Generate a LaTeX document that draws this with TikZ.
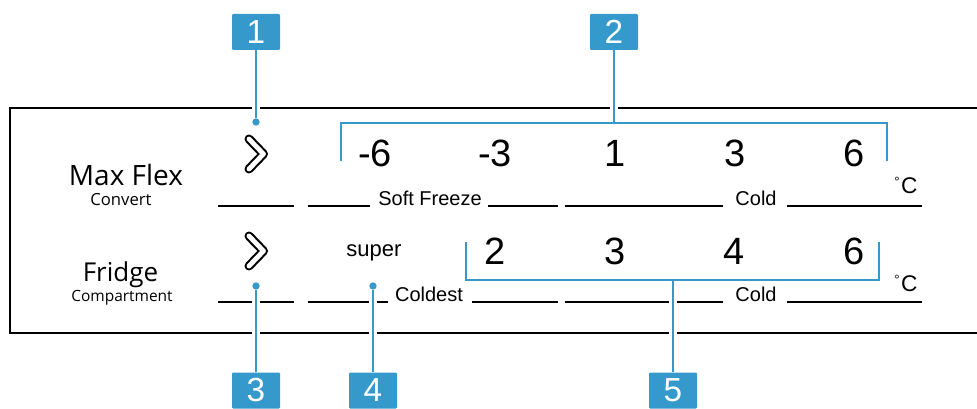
\documentclass[tikz,border=0pt]{standalone}
\usepackage{fontspec}
\setmainfont{Liberation Sans}
\newfontfamily\lblfont{Open Sans}
\definecolor{callout}{HTML}{3699CC}
\begin{document}
\begin{tikzpicture}[x=0.75pt,y=-0.75pt,
  frameline/.style={line width=1.9pt,black},
  uline/.style={line width=1.9pt,black},
  bluel/.style={line width=1.8pt,callout},
  halo/.style={line width=6pt,white},
  callbox/.style={fill=callout,draw=none,rounded corners=0.8pt,minimum width=36pt,minimum height=27pt,inner sep=0pt},
  callnum/.style={inner sep=0pt,text=white,font=\fontsize{25}{25}\selectfont},
  dot/.style={circle,fill=callout,inner sep=0pt,minimum size=5.5pt},
  bignum/.style={anchor=base,inner sep=0pt,font=\fontsize{28.5}{28.5}\selectfont},
  smalltxt/.style={anchor=base,inner sep=0pt,font=\fontsize{15}{15}\selectfont},
  degc/.style={anchor=base west,inner sep=0pt,font=\fontsize{17}{17}\selectfont},
  biglbl/.style={anchor=base,inner sep=0pt,font=\lblfont\fontsize{21}{21}\selectfont},
  sublbl/.style={anchor=base,inner sep=0pt,font=\lblfont\fontsize{12.5}{12.5}\selectfont},
  chevblack/.style={line width=6.75pt,black,line cap=round,line join=round},
  chevwhite/.style={line width=3.6pt,white,line cap=round,line join=round}
]
\clip (0,0) rectangle (977,409);
\fill[white] (0,0) rectangle (977,409);

% frame
\draw[frameline] (980,108) -- (10,108) -- (10,333) -- (980,333);

% underlines row 1
\draw[uline] (218,206) -- (294,206);
\draw[uline] (308,206) -- (370,206);
\draw[uline] (488,206) -- (558,206);
\draw[uline] (565,206) -- (723,206);
\draw[uline] (787,206) -- (922,206);
% underlines row 2
\draw[uline] (218,302) -- (294,302);
\draw[uline] (308,302) -- (388,302);
\draw[uline] (472,302) -- (558,302);
\draw[uline] (565,302) -- (723,302);
\draw[uline] (787,302) -- (922,302);

% labels on the underlines
\node[smalltxt] (softfreeze) at (430,206) {Soft Freeze};
\node[smalltxt] (cold1) at (756,206) {Cold};
\node[smalltxt] (coldest) at (429,302) {Coldest};
\node[smalltxt] (cold2) at (756,302) {Cold};

% left labels
\node[biglbl] (maxflex) at (126,186) {Max Flex};
\node[sublbl] (convert) at (121,206) {Convert};
\node[biglbl,font=\lblfont\fontsize{19.5}{19.5}\selectfont] (fridge) at (120.5,282) {Fridge};
\node[sublbl,font=\lblfont\fontsize{11.6}{11.6}\selectfont] (compart) at (122,302) {Compartment};

% chevrons
\foreach \cy in {154,251}{
  \draw[chevblack] (249,\cy-15) -- (263.5,\cy) -- (249,\cy+15);
  \draw[chevwhite] (249,\cy-15) -- (263.5,\cy) -- (249,\cy+15);
}

% big numbers row 1
\node[bignum] (r1a) at (375,167) {-6};
\node[bignum] (r1b) at (495,167) {-3};
\node[bignum] (r1c) at (615,167) {1};
\node[bignum] (r1d) at (735,167) {3};
\node[bignum] (r1e) at (854,167) {6};
% row 2
\node[anchor=base,inner sep=0pt,font=\fontsize{16.5}{16.5}\selectfont] (super) at (374,257) {super};
\node[bignum] (r2a) at (495,265) {2};
\node[bignum] (r2b) at (615,265) {3};
\node[bignum] (r2c) at (734,265) {4};
\node[bignum] (r2d) at (854,265) {6};

% degree C
\node[degc] (deg1) at (894,194) {\raisebox{5.5pt}{\fontsize{10}{10}\selectfont °}\kern1.2pt C};
\node[degc] (deg2) at (894,292) {\raisebox{5.5pt}{\fontsize{10}{10}\selectfont °}\kern1.2pt C};

% callout boxes
\node[callbox] (c1) at (256,32) {};
\node[callbox] (c2) at (614,32) {};
\node[callbox] (c3) at (256,390.5) {};
\node[callbox] (c4) at (373,390.5) {};
\node[callbox] (c5) at (673,390.5) {};
\node[callnum] (n1) at (c1.center) {1};
\node[callnum] (n2) at (c2.center) {2};
\node[callnum] (n3) at (c3.center) {3};
\node[callnum] (n4) at (c4.center) {4};
\node[callnum] (n5) at (c5.center) {5};

% dots
\node[dot] (d1) at (256,122) {};
\node[dot] (d3) at (256,286) {};
\node[dot] (d4) at (373,286) {};

% bracket coordinates
\coordinate (b2l) at (341,161);
\coordinate (b2r) at (887,161);
\coordinate (j2) at (614,123);
\coordinate (b5l) at (466,242);
\coordinate (b5r) at (879,242);
\coordinate (j5) at (673,280);
\coordinate (h5) at (673,285);

% halos where callout lines cross black lines
\draw[halo] (256,100) -- (256,116);
\draw[halo] (614,100) -- (614,116);
\draw[halo] (d3) -- (c3.north);
\draw[halo] (d4) -- (c4.north);
\draw[halo] (h5) -- (c5.north);

% callout lines
\draw[bluel] (c1.south) -- (d1);
\draw[bluel] (c2.south) -- (j2);
\draw[bluel] (b2l) |- (j2) -| (b2r);
\draw[bluel] (c3.north) -- (d3);
\draw[bluel] (c4.north) -- (d4);
\draw[bluel] (b5l) |- (j5) -| (b5r);
\draw[bluel] (c5.north) -- (j5);
\end{tikzpicture}
\end{document}
